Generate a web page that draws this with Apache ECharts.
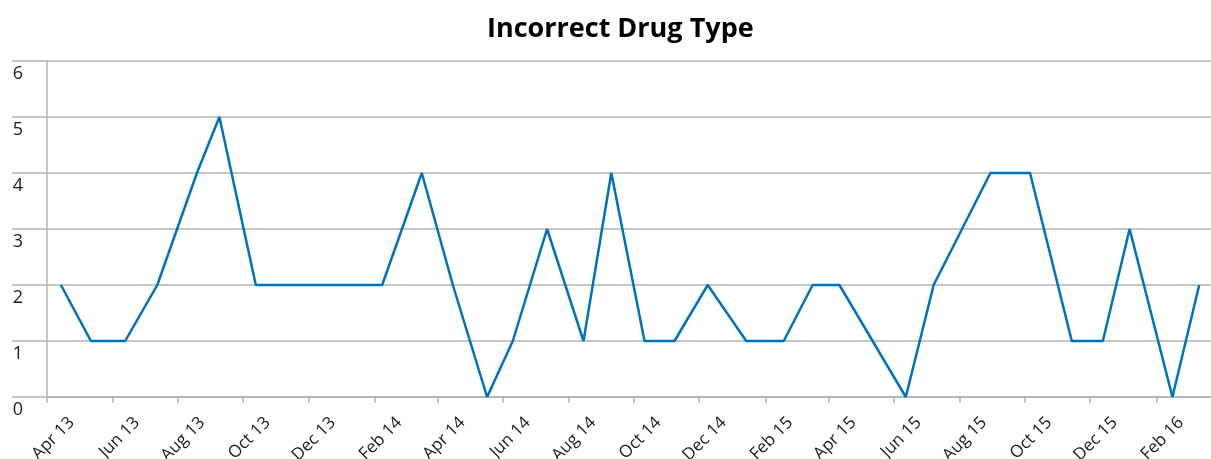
<!DOCTYPE html>
<html>
<head>
<meta charset="utf-8">
<script src="https://cdn.jsdelivr.net/npm/echarts@6/dist/echarts.min.js"></script>
<style>
  html, body { margin: 0; padding: 0; background: #fff; }
  #chart { width: 1211px; height: 459px; }
</style>
</head>
<body>
<div id="chart"></div>
<script>
// Monthly report dates and counts of incorrect drug type incidents
const reportDates = [
  '2013-04-14', '2013-05-12', '2013-06-13', '2013-07-13', '2013-08-19', '2013-09-09',
  '2013-10-13', '2013-11-11', '2013-12-11', '2014-01-09', '2014-02-08', '2014-03-17',
  '2014-04-15', '2014-05-17', '2014-06-10', '2014-07-12', '2014-08-15', '2014-09-10',
  '2014-10-11', '2014-11-08', '2014-12-09', '2015-01-14', '2015-02-18', '2015-03-17',
  '2015-04-11', '2015-06-12', '2015-07-08', '2015-08-30', '2015-10-06', '2015-11-14',
  '2015-12-13', '2016-01-07', '2016-02-16', '2016-03-12'
];
const incidentCounts = [
  2, 1, 1, 2, 4, 5,
  2, 2, 2, 2, 2, 4,
  2, 0, 1, 3, 1, 4,
  1, 1, 2, 1, 1, 2,
  2, 0, 2, 4, 4, 1,
  1, 3, 0, 2
];
// Axis range and the bi-monthly tick months (year, month index)
const axisStart = '2013-04-01';
const axisEnd = '2016-03-23';
const tickMonths = [
  [2013, 3], [2013, 5], [2013, 7], [2013, 9], [2013, 11],
  [2014, 1], [2014, 3], [2014, 5], [2014, 7], [2014, 9], [2014, 11],
  [2015, 1], [2015, 3], [2015, 5], [2015, 7], [2015, 9], [2015, 11],
  [2016, 1]
];
const monthNames = ['Jan', 'Feb', 'Mar', 'Apr', 'May', 'Jun', 'Jul', 'Aug', 'Sep', 'Oct', 'Nov', 'Dec'];

// the x axis counts days from the start of the axis
const DAY = 86400000;
const parseDay = s => {
  const [y, m, d] = s.split('-').map(Number);
  return Date.UTC(y, m - 1, d);
};
const origin = parseDay(axisStart);
const dayOf = s => (parseDay(s) - origin) / DAY;
const dayOfYMD = (y, m, d) => (Date.UTC(y, m, d) - origin) / DAY;

const tickValues = tickMonths.map(([y, m]) => dayOfYMD(y, m, 1));
// labels hang just to the right of each tick, as in the spreadsheet layout
const labelValues = tickMonths.map(([y, m]) => dayOfYMD(y, m, 24));

const gray = '#b3b3b3';
const fontFamily = '"Open Sans", "Noto Sans", sans-serif';

const chart = echarts.init(document.getElementById('chart'), null, { renderer: 'canvas' });
chart.setOption({
  animation: false,
  backgroundColor: '#ffffff',
  title: {
    text: 'Incorrect Drug Type',
    left: 482,
    top: 11,
    textStyle: { fontFamily, fontSize: 27, fontWeight: 'bold', color: '#000000' }
  },
  grid: {
    left: 47, right: 0, top: 61, bottom: 62,
    containLabel: false,
    outerBoundsMode: 'none'
  },
  xAxis: {
    type: 'value',
    min: 0,
    max: dayOf(axisEnd),
    axisLine: { show: true, onZero: false, lineStyle: { color: gray, width: 1.5 } },
    axisTick: {
      show: true,
      length: 6,
      customValues: tickValues,
      lineStyle: { color: gray, width: 1.5 }
    },
    axisLabel: {
      customValues: labelValues,
      rotate: 45,
      margin: 23,
      fontFamily,
      fontSize: 17,
      color: '#1a1a1a',
      formatter: v => {
        const d = new Date(origin + v * DAY);
        return monthNames[d.getUTCMonth()] + ' ' + String(d.getUTCFullYear()).slice(2);
      }
    },
    splitLine: { show: false }
  },
  yAxis: {
    type: 'value',
    min: 0,
    max: 6,
    interval: 1,
    axisLine: { show: true, lineStyle: { color: gray, width: 1.5 } },
    axisTick: { show: true, length: 35, lineStyle: { color: gray, width: 1.5 } },
    axisLabel: {
      margin: 24,
      align: 'right',
      verticalAlign: 'top',
      padding: [4, 0, 0, 0],
      fontFamily,
      fontSize: 18,
      color: '#1a1a1a'
    },
    splitLine: { show: true, lineStyle: { color: gray, width: 1.5 } }
  },
  series: [{
    type: 'line',
    data: reportDates.map((d, i) => [dayOf(d), incidentCounts[i]]),
    showSymbol: false,
    symbol: 'none',
    lineStyle: { color: '#0070c0', width: 2.5 },
    clip: false
  }]
});
</script>
</body>
</html>
